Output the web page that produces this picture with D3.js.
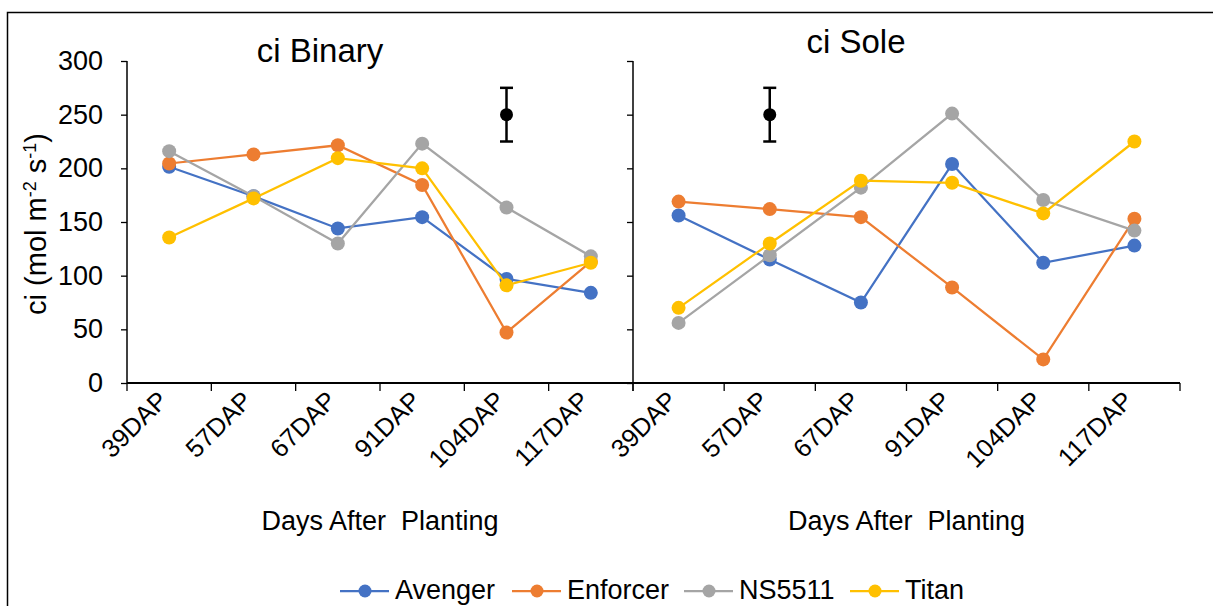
<!DOCTYPE html>
<html><head><meta charset="utf-8">
<script src="https://cdn.jsdelivr.net/npm/d3@7"></script>
<style>body{margin:0;background:#fff}svg{display:block;font-family:"Liberation Sans",Arial,sans-serif}</style>
</head><body>
<svg id="c" width="1213" height="606"></svg>
<script>
const categories = ["39DAP","57DAP","67DAP","91DAP","104DAP","117DAP"];
const seriesNames = ["Avenger","Enforcer","NS5511","Titan"];
const colors = ["#4472C4","#ED7D31","#A5A5A5","#FFC000"];
const binaryAvenger = [201.5,174,144,154.5,97,84];
const binaryEnforcer = [204.5,213,221.5,184.5,47,113];
const binaryNS5511 = [216,174,130,223,163.5,118];
const binaryTitan = [135.5,172,209.5,200,91,112];
const soleAvenger = [156,115,75,204,112,128];
const soleEnforcer = [169,162,154.5,89,22,153];
const soleNS5511 = [56,119,182,251,170.5,142];
const soleTitan = [70,130,188.5,186.5,158,225];
const yTicks = [0,50,100,150,200,250,300];
const errBinary = {cat:"104DAP", mean:250, lo:225, hi:275};
const errSole = {cat:"57DAP", mean:250, lo:225, hi:275};

const svg = d3.select("#c");
svg.append("rect").attr("x",7.5).attr("y",12.5).attr("width",1230).attr("height",620)
  .attr("fill","none").attr("stroke","#000").attr("stroke-width",1.5);

const y = d3.scaleLinear().domain([0,300]).range([383,61]);

const panels = [
  {title:"ci Binary", x0:127, x1:633, tx:320, ty:62, data:[binaryAvenger,binaryEnforcer,binaryNS5511,binaryTitan], err:errBinary, labels:true},
  {title:"ci Sole", x0:633, x1:1180, tx:856, ty:53, data:[soleAvenger,soleEnforcer,soleNS5511,soleTitan], err:errSole, labels:false}
];

panels.forEach(p=>{
  const x = d3.scaleBand().domain(categories).range([p.x0,p.x1]);
  const g = svg.append("g");
  // y axis
  const ya = g.append("g").attr("transform",`translate(${p.x0},0)`)
    .call(d3.axisLeft(y).tickValues(yTicks).tickSize(6).tickPadding(18).tickFormat(p.labels?d3.format("d"):()=>""));
  ya.select(".domain").attr("stroke","#000").attr("stroke-width",1.5).attr("d",`M0,61V383`);
  ya.selectAll(".tick line").attr("stroke","#000").attr("stroke-width",1.3);
  ya.selectAll("text").attr("font-size",27).attr("fill","#000").attr("font-family","Liberation Sans, Arial");
  // x axis
  const xa = g.append("g").attr("transform","translate(0,383)")
    .call(d3.axisBottom(x).tickSize(0).tickPadding(0));
  xa.select(".domain").attr("stroke","#000").attr("stroke-width",2).attr("d",`M${p.x0},0H${p.x1}`);
  xa.selectAll(".tick text").attr("font-size",25.5).attr("fill","#000").attr("font-family","Liberation Sans, Arial")
    .attr("text-anchor","end").attr("dy",0).attr("y",0)
    .attr("transform","translate(0,19) rotate(-45)");
  // category boundary ticks
  const bounds = categories.map(c=>x(c)).concat([p.x1]);
  g.selectAll(".bt").data(bounds).join("line")
    .attr("x1",d=>d).attr("x2",d=>d).attr("y1",383).attr("y2",391)
    .attr("stroke","#000").attr("stroke-width",1.3);
  // title
  g.append("text").attr("x",p.tx).attr("y",p.ty).attr("text-anchor","middle")
    .attr("font-size",33).text(p.title);
  g.append("text").attr("x",(p.x0+p.x1)/2).attr("y",530).attr("text-anchor","middle")
    .attr("font-size",27).attr("xml:space","preserve").style("white-space","pre").text("Days After  Planting");
  // series
  const line = d3.line().x((d,i)=>x(categories[i])+x.bandwidth()/2).y(d=>y(d));
  p.data.forEach((s,k)=>{
    g.append("path").datum(s).attr("d",line).attr("fill","none")
      .attr("stroke",colors[k]).attr("stroke-width",2.25);
    g.selectAll(null).data(s).join("circle")
      .attr("cx",(d,i)=>x(categories[i])+x.bandwidth()/2).attr("cy",d=>y(d)).attr("r",7)
      .attr("fill",colors[k]);
  });
  // error bar
  const ex = x(p.err.cat)+x.bandwidth()/2;
  g.append("line").attr("x1",ex).attr("x2",ex).attr("y1",y(p.err.hi)).attr("y2",y(p.err.lo)).attr("stroke","#000").attr("stroke-width",2.5);
  [p.err.hi,p.err.lo].forEach(v=>g.append("line").attr("x1",ex-6.5).attr("x2",ex+6.5).attr("y1",y(v)).attr("y2",y(v)).attr("stroke","#000").attr("stroke-width",2.5));
  g.append("circle").attr("cx",ex).attr("cy",y(p.err.mean)).attr("r",6.5).attr("fill","#000");
});

// y label
const yl = svg.append("text").attr("transform","translate(46,224) rotate(-90)").attr("text-anchor","middle").attr("font-size",29);
yl.append("tspan").text("ci (mol m");
yl.append("tspan").attr("font-size",18).attr("baseline-shift","super").text("-2");
yl.append("tspan").text(" s");
yl.append("tspan").attr("font-size",18).attr("baseline-shift","super").text("-1");
yl.append("tspan").text(")");

// legend
const legX = [340,512,684,850];
seriesNames.forEach((n,k)=>{
  const lg = svg.append("g").attr("transform",`translate(${legX[k]},591)`);
  lg.append("line").attr("x1",0).attr("x2",49).attr("stroke",colors[k]).attr("stroke-width",2.25);
  lg.append("circle").attr("cx",25).attr("r",6.5).attr("fill",colors[k]);
  lg.append("text").attr("x",55).attr("y",8).attr("font-size",27).text(n);
});
</script>
</body></html>
